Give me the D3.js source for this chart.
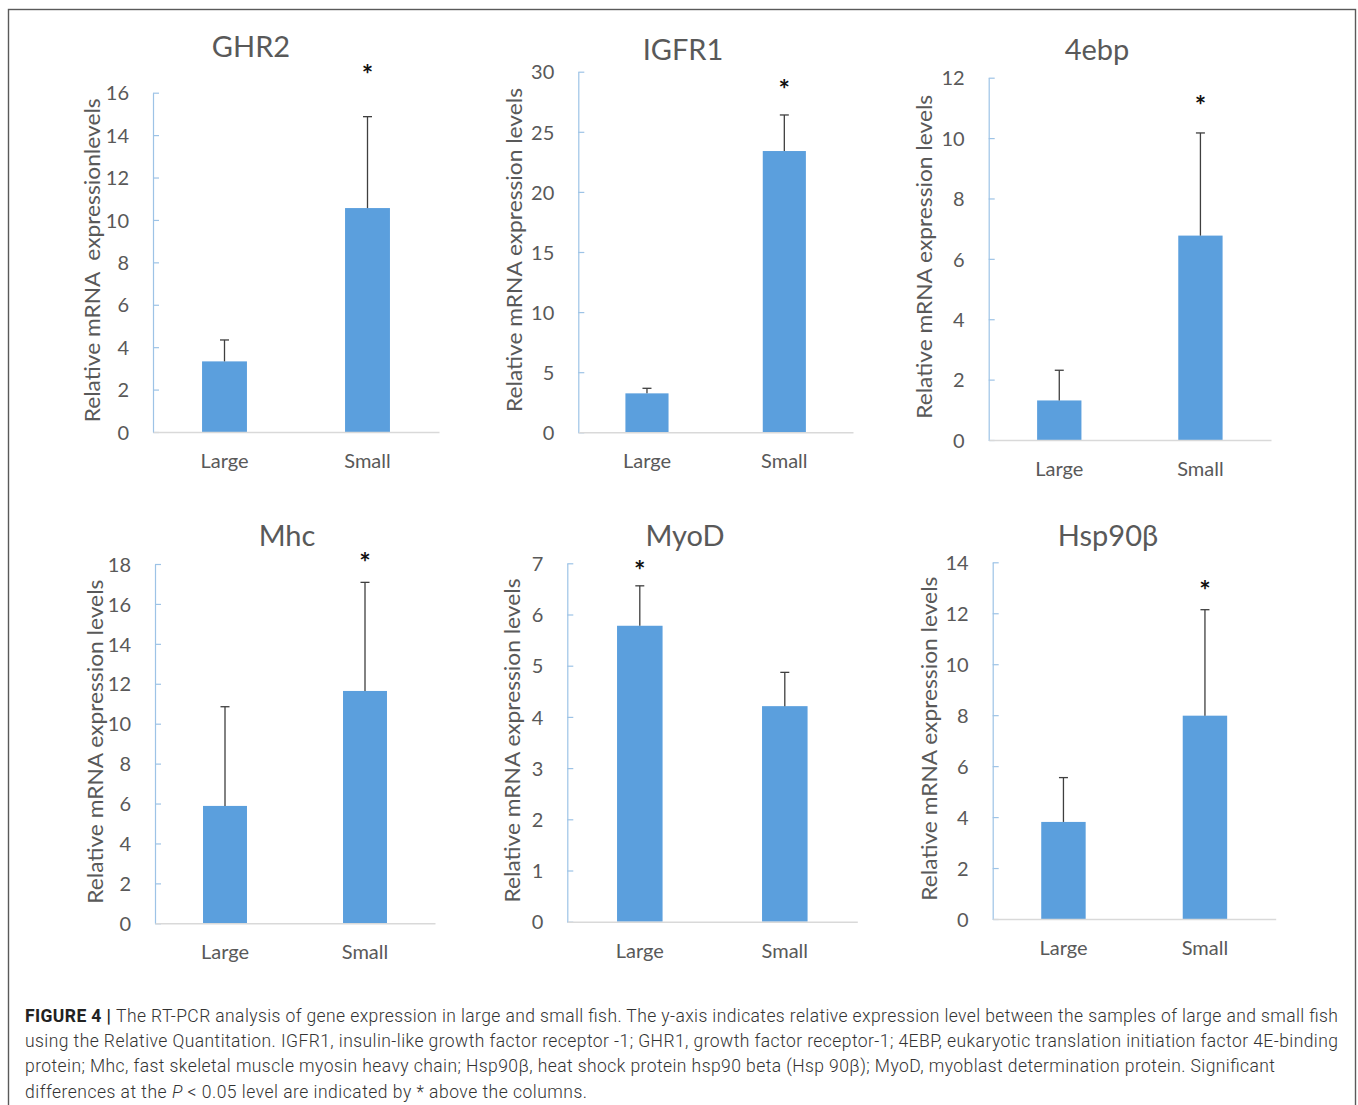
<!DOCTYPE html>
<html>
<head>
<meta charset="utf-8">
<script src="https://cdn.jsdelivr.net/npm/d3@7"></script>
<style>
  body { margin: 0; background: #fff; }
  svg { display: block; }
  .tick text { font-family: Lato, "Open Sans", sans-serif; font-size: 20px; fill: #595959; }
</style>
</head>
<body>
<div id="chart"></div>
<script>
// data
const charts = ['GHR2', 'IGFR1', '4ebp', 'Mhc', 'MyoD', 'Hsp90\u03b2'];
const groups = ['Large', 'Small'];
const means = [
  [3.33, 10.56],
  [3.24, 23.4],
  [1.31, 6.77],
  [5.88, 11.64],
  [5.78, 4.21],
  [3.81, 7.98]
];
const errors = [
  [1.01, 4.31],
  [0.42, 3.0],
  [1.0, 3.4],
  [4.97, 5.44],
  [0.78, 0.66],
  [1.74, 4.16]
];
const yTicks = [
  [0, 2, 4, 6, 8, 10, 12, 14, 16],
  [0, 5, 10, 15, 20, 25, 30],
  [0, 2, 4, 6, 8, 10, 12],
  [0, 2, 4, 6, 8, 10, 12, 14, 16, 18],
  [0, 1, 2, 3, 4, 5, 6, 7],
  [0, 2, 4, 6, 8, 10, 12, 14]
];
const significant = ['Small', 'Small', 'Small', 'Small', 'Large', 'Small'];
const starLevel = [17.07, 28.9, 11.23, 18.29, 6.95, 13.07];
const yTitles = [
  'Relative mRNA  expressionlevels',
  'Relative mRNA expression levels',
  'Relative mRNA expression levels',
  'Relative mRNA expression levels',
  'Relative mRNA expression levels',
  'Relative mRNA expression levels'
];
const captionLines = [
  [['FIGURE 4 | ', 'b'], ['The RT-PCR analysis of gene expression in large and small fish. The y-axis indicates relative expression level between the samples of large and small fish', '']],
  [['using the Relative Quantitation. IGFR1, insulin-like growth factor receptor -1; GHR1, growth factor receptor-1; 4EBP, eukaryotic translation initiation factor 4E-binding', '']],
  [['protein; Mhc, fast skeletal muscle myosin heavy chain; Hsp90\u03b2, heat shock protein hsp90 beta (Hsp 90\u03b2); MyoD, myoblast determination protein. Significant', '']],
  [['differences at the ', ''], ['P', 'i'], [' < 0.05 level are indicated by * above the columns.', '']]
];

// panel placement on the page
const panels = [
  { left: 153, top: 92.7, zero: 432, right: 439, titleX: 251, titleY: 57, labelDx: -62 },
  { left: 578.3, top: 71.7, zero: 432.3, right: 853, titleX: 683, titleY: 60, labelDx: -65 },
  { left: 988.7, top: 77.7, zero: 440, right: 1271, titleX: 1097, titleY: 60, labelDx: -65 },
  { left: 155, top: 564, zero: 923.3, right: 435, titleX: 287, titleY: 546, labelDx: -61 },
  { left: 567.3, top: 563.3, zero: 921.7, right: 857.3, titleX: 685, titleY: 546, labelDx: -56 },
  { left: 992.7, top: 562.3, zero: 919, right: 1275.7, titleX: 1108, titleY: 546, labelDx: -64 }
];
const captionWidths = [1313, 1313, 1250, 562];

const W = 1358, H = 1105;
const font = 'Lato, "Open Sans", sans-serif';
const svg = d3.select('#chart').append('svg').attr('width', W).attr('height', H);

svg.append('rect').attr('width', W).attr('height', H).attr('fill', '#fff');
svg.append('rect')
  .attr('x', 8.5).attr('y', 9.5).attr('width', 1347).attr('height', 1120)
  .attr('fill', 'none').attr('stroke', '#5a5a5a').attr('stroke-width', 1.4);

charts.forEach(function (name, i) {
  const p = panels[i];
  const ticks = yTicks[i];
  const y = d3.scaleLinear().domain([0, ticks[ticks.length - 1]]).range([p.zero, p.top]);
  const x = d3.scaleBand().domain(groups).range([p.left, p.right]).paddingInner(0.686).paddingOuter(0.343);
  const g = svg.append('g');

  // y axis
  const ya = g.append('g')
    .attr('transform', 'translate(' + p.left + ',0)')
    .call(d3.axisLeft(y).tickValues(ticks).tickFormat(d3.format('d'))
      .tickSizeInner(-6).tickSizeOuter(0).tickPadding(24));
  ya.select('.domain').attr('stroke', '#9dc3e6').attr('stroke-width', 1.2);
  ya.selectAll('.tick line').attr('stroke', '#9dc3e6').attr('stroke-width', 1.2);
  ya.selectAll('.tick text').attr('dy', '0.36em');

  // bars
  g.selectAll('.bar')
    .data(groups)
    .enter().append('rect')
    .attr('class', 'bar')
    .attr('x', function (d) { return x(d); })
    .attr('y', function (d, j) { return y(means[i][j]); })
    .attr('width', x.bandwidth())
    .attr('height', function (d, j) { return y(0) - y(means[i][j]); })
    .attr('fill', '#5b9fdd');

  // x axis
  const xa = g.append('g')
    .attr('transform', 'translate(0,' + p.zero + ')')
    .call(d3.axisBottom(x).tickSize(0).tickPadding(22));
  xa.select('.domain').attr('stroke', '#d9d9d9').attr('stroke-width', 1.6);
  xa.selectAll('.tick text').attr('dy', '0.71em');

  // error bars (upper only)
  const err = g.selectAll('.err')
    .data(groups)
    .enter().append('g')
    .attr('class', 'err')
    .attr('stroke', '#3f3f3f')
    .attr('stroke-width', 1.3);
  err.append('line')
    .attr('x1', function (d) { return x(d) + x.bandwidth() / 2; })
    .attr('x2', function (d) { return x(d) + x.bandwidth() / 2; })
    .attr('y1', function (d, j) { return y(means[i][j]); })
    .attr('y2', function (d, j) { return y(means[i][j] + errors[i][j]); });
  err.append('line')
    .attr('x1', function (d) { return x(d) + x.bandwidth() / 2 - 4.5; })
    .attr('x2', function (d) { return x(d) + x.bandwidth() / 2 + 4.5; })
    .attr('y1', function (d, j) { return y(means[i][j] + errors[i][j]); })
    .attr('y2', function (d, j) { return y(means[i][j] + errors[i][j]); });

  // significance star
  g.append('text')
    .attr('x', x(significant[i]) + x.bandwidth() / 2)
    .attr('y', y(starLevel[i]) + 14)
    .attr('text-anchor', 'middle')
    .attr('font-family', font)
    .attr('font-weight', 'bold')
    .attr('font-size', 27)
    .attr('fill', '#111')
    .text('*');

  // title
  g.append('text')
    .attr('x', p.titleX)
    .attr('y', p.titleY)
    .attr('text-anchor', 'middle')
    .attr('font-family', font)
    .attr('font-size', 29)
    .attr('fill', '#595959')
    .text(name);

  // y axis title
  const cy = (p.top + p.zero) / 2 - 2;
  g.append('text')
    .attr('transform', 'translate(' + (p.left + p.labelDx) + ',' + cy + ') rotate(-90)')
    .attr('text-anchor', 'middle')
    .attr('dominant-baseline', 'central')
    .attr('font-family', font)
    .attr('font-size', 22)
    .attr('fill', '#595959')
    .attr('textLength', 324)
    .attr('lengthAdjust', 'spacingAndGlyphs')
    .style('white-space', 'pre')
    .text(yTitles[i]);
});

// caption
captionLines.forEach(function (parts, k) {
  const t = svg.append('text')
    .attr('x', 25)
    .attr('y', 1022 + k * 25.2)
    .attr('font-family', 'Roboto, "Liberation Sans", sans-serif')
    .attr('font-size', 17.5)
    .attr('font-weight', 300)
    .attr('fill', '#333')
    .attr('textLength', captionWidths[k])
    .attr('lengthAdjust', 'spacing')
    .style('white-space', 'pre');
  parts.forEach(function (s) {
    const ts = t.append('tspan').text(s[0]);
    if (s[1] === 'b') ts.attr('font-weight', 'bold').attr('fill', '#222');
    if (s[1] === 'i') ts.attr('font-style', 'italic');
  });
});
</script>
</body>
</html>
